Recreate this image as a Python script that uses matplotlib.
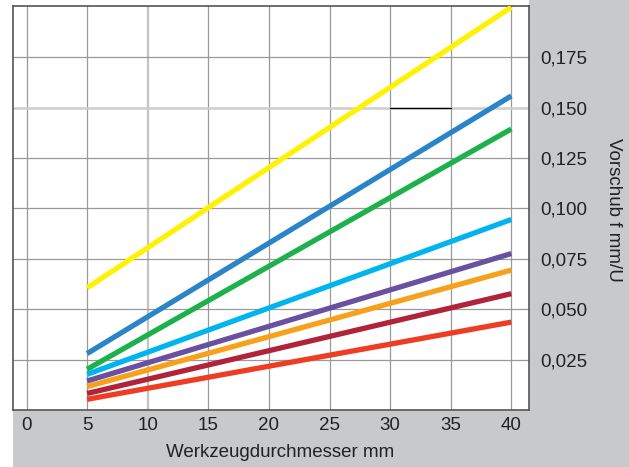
import matplotlib
matplotlib.use("Agg")
import matplotlib.pyplot as plt
from matplotlib.patches import Rectangle

plt.rcParams['font.family'] = ['Liberation Sans', 'DejaVu Sans']

# Feed per revolution for tool diameters 5 mm and 40 mm
diameters = [5, 40]
series_colors = ["#FFF200", "#2A85C8", "#1DB14B", "#00B5EE",
                 "#6950A1", "#F7A11A", "#B0233A", "#EE3D23"]
feed_start = [0.0606, 0.0280, 0.0202, 0.0177, 0.0144, 0.0116, 0.0082, 0.0053]
feed_end = [0.1998, 0.1558, 0.1394, 0.0945, 0.0776, 0.0694, 0.0577, 0.0436]

x_ticks = [0, 5, 10, 15, 20, 25, 30, 35, 40]
y_ticks = [0.025, 0.050, 0.075, 0.100, 0.125, 0.150, 0.175]
y_tick_labels = ["0,025", "0,050", "0,075", "0,100", "0,125", "0,150", "0,175"]

W, H = 629, 467
fig = plt.figure(figsize=(W / 100, H / 100), dpi=100, facecolor="white")

grey = "#C8C9CB"
# grey frame: right band and bottom band
fig.patches.append(Rectangle((529 / W, 0), 1 - 529 / W, 1, transform=fig.transFigure,
                             facecolor=grey, edgecolor="none", zorder=-5))
fig.patches.append(Rectangle((12.7 / W, 0), 1 - 12.7 / W, (H - 410) / H, transform=fig.transFigure,
                             facecolor=grey, edgecolor="none", zorder=-5))

ax = fig.add_axes([12.7 / W, (H - 410) / H, (529 - 12.7) / W, (410 - 6) / H])
ax.set_zorder(2)
ax.set_facecolor("white")
ax.set_xlim(-1.14, 41.46)
ax.set_ylim(0, 0.2004)

# grid
for xv in x_ticks[:-1]:
    if xv == 10:
        ax.axvline(xv, color="#C4C4C4", lw=1.6, zorder=1)
    else:
        ax.axvline(xv, color="#9A9A9A", lw=0.9, zorder=1)
ax.axvline(40, color="#9A9A9A", lw=0.9, zorder=1)
for yv in y_ticks:
    if abs(yv - 0.150) < 1e-9:
        ax.axhline(yv, color="#CDCDCD", lw=1.8, zorder=1)
    else:
        ax.axhline(yv, color="#9A9A9A", lw=0.9, zorder=1)
ax.plot([30, 35], [0.150, 0.150], color="black", lw=0.9, zorder=2)

for c, a, b in zip(series_colors, feed_start, feed_end):
    ax.plot(diameters, [a, b], color=c, lw=3.8, solid_capstyle="butt", zorder=3)

for s in ax.spines.values():
    s.set_color("#555555")
    s.set_linewidth(1.2)

ax.set_xticks(x_ticks)
ax.set_xticklabels([str(v) for v in x_ticks], fontsize=13.5, color="#222222")
ax.tick_params(axis="x", length=0, pad=5)

ax.yaxis.tick_right()
ax.set_yticks(y_ticks)
ax.set_yticklabels(y_tick_labels, fontsize=13.5, color="#222222")
ax.tick_params(axis="y", length=0, pad=8)

ax.set_xlabel("Werkzeugdurchmesser mm", fontsize=13.5, color="#222222")
ax.xaxis.label.set_va("center")
ax.xaxis.set_label_coords(0.5177, -0.106)
ax.yaxis.set_label_position("right")
ax.set_ylabel("Vorschub f mm/U", fontsize=13.5, color="#222222", rotation=-90)
ax.yaxis.label.set_va("center")
ax.yaxis.label.set_ha("center")
ax.yaxis.set_label_coords(1.163, 0.495)

fig.savefig("out.png", dpi=100, facecolor="white")
